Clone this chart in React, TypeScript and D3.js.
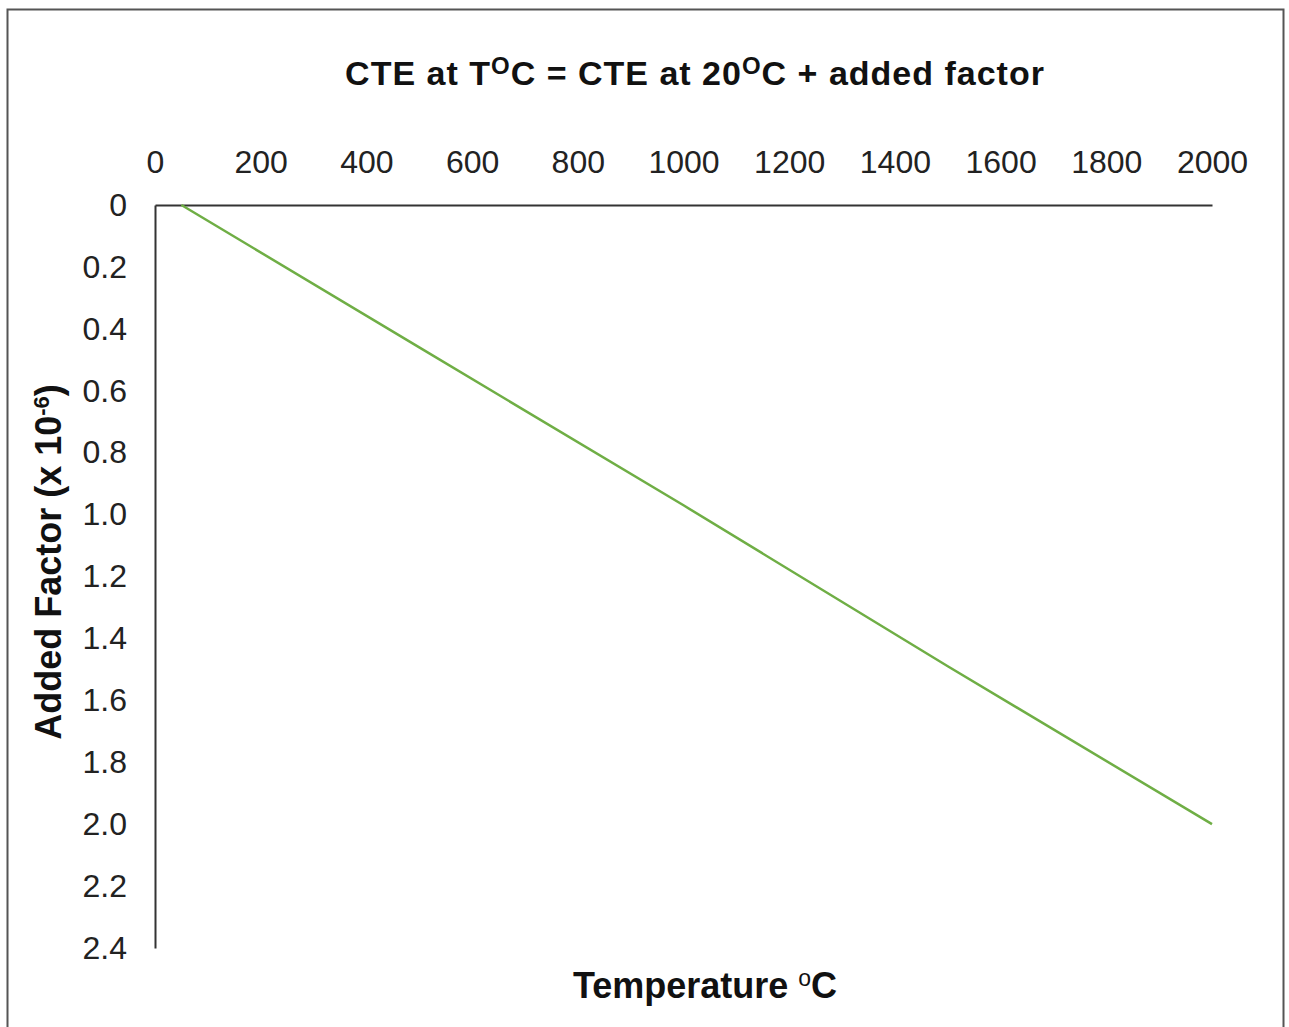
import React, { useEffect, useRef } from 'react';
import * as d3 from 'd3';

// values
const temperatures = [50, 500, 1000, 1500, 2000];
const addedFactor = [0, 0.46, 0.97, 1.49, 2.0];
const xTicks = [0, 200, 400, 600, 800, 1000, 1200, 1400, 1600, 1800, 2000];
const yTicks = [0, 0.2, 0.4, 0.6, 0.8, 1.0, 1.2, 1.4, 1.6, 1.8, 2.0, 2.2, 2.4];

const width = 1289;
const height = 1027;
const margin = { top: 205, right: 77, bottom: 79, left: 155 };
const font = '"Liberation Sans", Arial, sans-serif';

const App: React.FC = () => {
  const ref = useRef<SVGSVGElement>(null);

  useEffect(() => {
    const svg = d3.select(ref.current);
    svg.selectAll('*').remove();

    const x = d3.scaleLinear().domain([0, 2000]).range([margin.left, width - margin.right]);
    const y = d3.scaleLinear().domain([0, 2.4]).range([margin.top, height - margin.bottom]);

    // outer frame
    svg.append('rect')
      .attr('x', 7.5)
      .attr('y', 9.5)
      .attr('width', 1276)
      .attr('height', 1030)
      .attr('fill', 'none')
      .attr('stroke', '#555')
      .attr('stroke-width', 2);

    // x axis on top
    const xg = svg.append('g')
      .attr('transform', `translate(0,${margin.top})`)
      .call(d3.axisTop(x).tickValues(xTicks).tickSize(0).tickPadding(32).tickFormat(d3.format('d')));
    xg.select('.domain').attr('stroke', '#333').attr('stroke-width', 2);
    xg.selectAll('text').attr('font-family', font).attr('font-size', 32).attr('fill', '#222');

    // y axis, inverted
    const yg = svg.append('g')
      .attr('transform', `translate(${margin.left},0)`)
      .call(d3.axisLeft(y).tickValues(yTicks).tickSize(0).tickPadding(28)
        .tickFormat(d => (+d === 0 ? '0' : d3.format('.1f')(+d))));
    yg.select('.domain').attr('stroke', '#333').attr('stroke-width', 2);
    yg.selectAll('text').attr('font-family', font).attr('font-size', 32).attr('fill', '#222');

    // the line
    const line = d3.line<number>()
      .x((_, i) => x(temperatures[i]))
      .y(d => y(d));
    svg.append('path')
      .datum(addedFactor)
      .attr('fill', 'none')
      .attr('stroke', '#6fae45')
      .attr('stroke-width', 2.5)
      .attr('d', line);

    // title
    const title = svg.append('text')
      .attr('x', 695)
      .attr('y', 85)
      .attr('text-anchor', 'middle')
      .attr('font-family', font)
      .attr('font-weight', 'bold')
      .attr('font-size', 34)
      .attr('letter-spacing', 1)
      .attr('fill', '#111');
    title.append('tspan').text('CTE at T');
    title.append('tspan').attr('dy', -11).attr('font-size', 24).text('O');
    title.append('tspan').attr('dy', 11).text('C = CTE at 20');
    title.append('tspan').attr('dy', -11).attr('font-size', 24).text('O');
    title.append('tspan').attr('dy', 11).text('C + added factor');

    // x label
    const xl = svg.append('text')
      .attr('x', 705)
      .attr('y', 998)
      .attr('text-anchor', 'middle')
      .attr('font-family', font)
      .attr('font-weight', 'bold')
      .attr('font-size', 36)
      .attr('fill', '#111');
    xl.append('tspan').text('Temperature ');
    xl.append('tspan').attr('dy', -12).attr('font-size', 23).attr('font-weight', 'normal').text('o');
    xl.append('tspan').attr('dy', 12).text('C');

    // y label
    const yl = svg.append('text')
      .attr('transform', 'translate(61,562) rotate(-90)')
      .attr('text-anchor', 'middle')
      .attr('font-family', font)
      .attr('font-weight', 'bold')
      .attr('font-size', 36)
      .attr('fill', '#111');
    yl.append('tspan').text('Added Factor (x 10');
    yl.append('tspan').attr('dy', -12).attr('font-size', 22).text('-6');
    yl.append('tspan').attr('dy', 12).text(')');
  }, []);

  return (
    <svg
      ref={ref}
      width={width}
      height={height}
      style={{ position: 'absolute', left: 0, top: 0, background: '#fff' }}
    />
  );
};

export default App;
